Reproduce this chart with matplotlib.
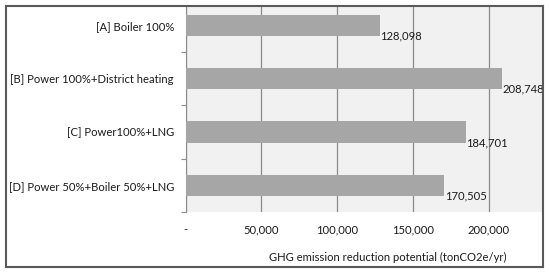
import matplotlib
matplotlib.use("Agg")
import matplotlib.pyplot as plt
from matplotlib.ticker import FuncFormatter, FixedLocator

categories = ["[A] Boiler 100%", "[B] Power 100%+District heating",
              "[C] Power100%+LNG", "[D] Power 50%+Boiler 50%+LNG"]
values = [128098, 208748, 184701, 170505]
xticks = [0, 50000, 100000, 150000, 200000]
xlabel = "GHG emission reduction potential (tonCO2e/yr)"

plt.rcParams['font.family'] = ['Lato', 'DejaVu Sans']
FS = 8.1
W, H = 550, 274
fig = plt.figure(figsize=(W / 100, H / 100), dpi=100)
fig.patch.set_facecolor("white")

# outer frame as a background axes
frame = fig.add_axes([5.5 / W, 7.5 / H, 537 / W, 260.5 / H], zorder=5)
frame.patch.set_alpha(0)
frame.set_xticks([])
frame.set_yticks([])
for s in frame.spines.values():
    s.set_color("#5a5a5a")
    s.set_linewidth(1.5)

left, right, top, bottom = 185.5, 542, 6, 212
ax = fig.add_axes([left / W, 1 - bottom / H, (right - left) / W, (bottom - top) / H], zorder=1)
ax.set_facecolor("#f1f1f1")

ypos = list(range(len(categories)))
ax.barh(ypos, values, height=0.4, color="#a6a6a6", zorder=3)
ax.set_xlim(0, 235000)
frac_top = (212 - 6) / 53.3
ax.set_ylim(3.5, 3.5 - frac_top)

ax.set_yticks(ypos)
ax.set_yticklabels(categories, fontsize=FS, color="#1a1a1a")
ax.yaxis.set_minor_locator(FixedLocator([0.5, 1.5, 2.5, 3.5]))
ax.tick_params(axis="y", which="major", length=0, pad=8.3)
ax.tick_params(axis="y", which="minor", length=3.5, color="#8c8c8c", width=0.8)

ax.xaxis.set_major_locator(FixedLocator(xticks))
ax.xaxis.set_major_formatter(FuncFormatter(lambda v, p: "-" if v == 0 else f"{int(v):,}"))
ax.tick_params(axis="x", length=0, pad=9, labelsize=FS, labelcolor="#1a1a1a")
ax.grid(axis="x", color="#8a8a8a", linewidth=0.9, zorder=1)

for s in ["top", "right", "bottom"]:
    ax.spines[s].set_visible(False)
ax.spines["left"].set_color("#8c8c8c")
ax.spines["left"].set_linewidth(0.8)

for y, v in zip(ypos, values):
    ax.annotate(f"{v:,}", (v, y), xytext=(0.5, -7.5), textcoords="offset points",
                ha="left", va="center", fontsize=FS, color="#1a1a1a", zorder=5)

fig.text(388 / W, 1 - 257 / H, xlabel, ha="center", va="center",
         fontsize=FS, color="#1a1a1a")

fig.savefig("out.png", dpi=100)
